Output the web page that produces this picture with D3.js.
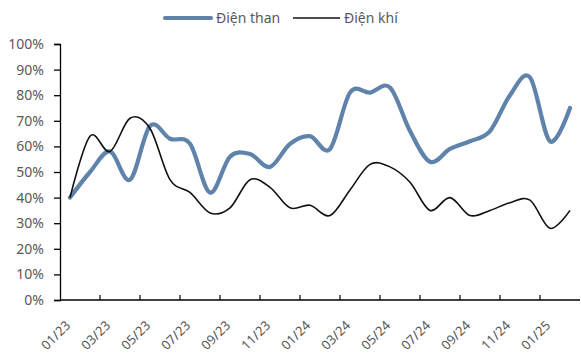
<!DOCTYPE html>
<html>
<head>
<meta charset="utf-8">
<script src="https://cdn.jsdelivr.net/npm/d3@7"></script>
<style>
  html, body { margin: 0; padding: 0; background: #fff; }
  svg { display: block; font-family: "Source Sans Pro", "Noto Sans", "Open Sans", sans-serif; }
</style>
</head>
<body>
<svg id="chart" width="581" height="356"></svg>
<script>
// Monthly share of capacity used (%), Jan 2023 – Feb 2025
const months = ["01/23","02/23","03/23","04/23","05/23","06/23","07/23","08/23","09/23","10/23","11/23","12/23",
                "01/24","02/24","03/24","04/24","05/24","06/24","07/24","08/24","09/24","10/24","11/24","12/24",
                "01/25","02/25"];
const coal = [40, 50, 58, 47, 68, 63, 61, 42, 56, 57, 52, 61,
              64, 59, 81, 81, 83, 66, 54, 59, 62, 66, 80, 87,
              62, 75];
const gas  = [40, 64, 58, 71, 67, 47, 42, 34, 36, 47, 44, 36,
              37, 33, 43, 53, 52, 46, 35, 40, 33, 35, 38, 39,
              28, 35];
const yTicks = [0, 10, 20, 30, 40, 50, 60, 70, 80, 90, 100];
const seriesNames = ["Điện than", "Điện khí"];

const svg = d3.select("#chart");
const margin = { left: 60, right: 1, top: 44, bottom: 56 };
const W = 581, H = 356;
const x0 = margin.left, x1 = W - margin.right;
const y0 = H - margin.bottom, y1 = margin.top;

const x = d3.scaleBand().domain(months).range([x0, x1]).padding(0);
const y = d3.scaleLinear().domain([0, 100]).range([y0, y1]);
const cx = m => x(m) + x.bandwidth() / 2;

const textColor = "#595959";

// y axis
const yAxis = svg.append("g")
  .attr("transform", `translate(${x0},0)`)
  .call(d3.axisLeft(y).tickValues(yTicks).tickFormat(d => d + "%").tickSize(6).tickPadding(10));
yAxis.select(".domain").attr("stroke", "#000").attr("stroke-width", 1.3);
yAxis.selectAll(".tick line").attr("stroke", "#000").attr("stroke-width", 1.3);
yAxis.selectAll(".tick text").attr("fill", textColor).attr("font-size", 14)
  .attr("font-family", "'Source Sans Pro','Noto Sans',sans-serif");

// x axis: tick marks at every other category boundary, pointing inward
const xg = svg.append("g").attr("transform", `translate(0,${y0})`);
xg.append("line").attr("x1", x0).attr("x2", x1).attr("y1", 0).attr("y2", 0)
  .attr("stroke", "#000").attr("stroke-width", 1.3);
const boundaries = months.filter((m, i) => i % 2 === 0 && i > 0).map(m => x(m));
xg.selectAll("line.tk").data(boundaries).enter().append("line")
  .attr("class", "tk")
  .attr("x1", d => d).attr("x2", d => d).attr("y1", 0).attr("y2", -5)
  .attr("stroke", "#000").attr("stroke-width", 1.2);
const labelled = months.filter((m, i) => i % 2 === 0);
xg.selectAll("text.lb").data(labelled).enter().append("text")
  .attr("class", "lb")
  .attr("transform", d => `translate(${cx(d) - 2},${23}) rotate(-45)`)
  .attr("text-anchor", "end")
  .attr("dy", "0.35em")
  .attr("fill", textColor)
  .attr("font-size", 13)
  .text(d => d);

// lines
const line = vals => d3.line()
  .x((d, i) => cx(months[i]))
  .y(d => y(d))
  .curve(d3.curveCatmullRom.alpha(0))(vals);

svg.append("path").attr("d", line(coal))
  .attr("fill", "none").attr("stroke", "#6083ac").attr("stroke-width", 4.2)
  .attr("stroke-linejoin", "round").attr("stroke-linecap", "round");
svg.append("path").attr("d", line(gas))
  .attr("fill", "none").attr("stroke", "#111").attr("stroke-width", 1.6)
  .attr("stroke-linejoin", "round");

// legend
const lg = svg.append("g");
lg.append("line").attr("x1", 165).attr("x2", 211).attr("y1", 18).attr("y2", 18)
  .attr("stroke", "#6083ac").attr("stroke-width", 4.2).attr("stroke-linecap", "round");
lg.append("text").attr("x", 216).attr("y", 18).attr("dy", "0.35em")
  .attr("fill", textColor).attr("font-size", 14).text(seriesNames[0]);
lg.append("line").attr("x1", 293).attr("x2", 340).attr("y1", 18).attr("y2", 18)
  .attr("stroke", "#111").attr("stroke-width", 1.6);
lg.append("text").attr("x", 344).attr("y", 18).attr("dy", "0.35em")
  .attr("fill", textColor).attr("font-size", 14).text(seriesNames[1]);
</script>
</body>
</html>
